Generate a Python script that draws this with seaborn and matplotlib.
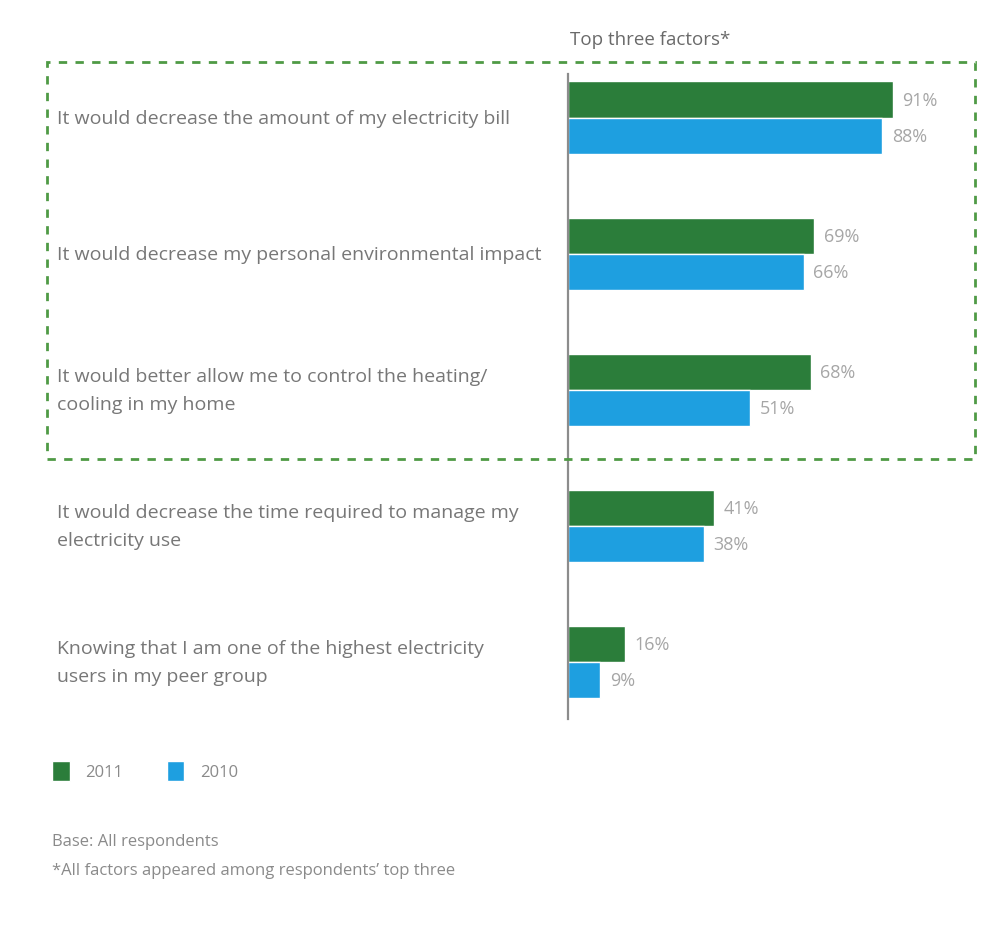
import matplotlib
matplotlib.use("Agg")
import matplotlib.pyplot as plt
import matplotlib.transforms as mtransforms
from matplotlib.patches import Rectangle
import pandas as pd
import seaborn as sns

# Survey factors and shares of respondents (percent)
factors = [
    "It would decrease the amount of my electricity bill",
    "It would decrease my personal environmental impact",
    "It would better allow me to control the heating/\ncooling in my home",
    "It would decrease the time required to manage my\nelectricity use",
    "Knowing that I am one of the highest electricity\nusers in my peer group",
]
values_2011 = [91, 69, 68, 41, 16]
values_2010 = [88, 66, 51, 38, 9]
years = ["2011", "2010"]
colors = {"2011": "#2b7d3a", "2010": "#1e9fe0"}

title_text = "Top three factors*"
footnotes = ["Base: All respondents",
             "*All factors appeared among respondents\u2019 top three"]

df = pd.DataFrame({
    "factor": factors * 2,
    "year": ["2011"] * len(factors) + ["2010"] * len(factors),
    "value": values_2011 + values_2010,
})

sns.set_theme(style="white")
plt.rcParams["font.family"] = ["Open Sans", "DejaVu Sans"]
text_gray = "#777777"

W, H = 996, 928
fig = plt.figure(figsize=(W / 100, H / 100), dpi=100)
ax_left, ax_right, ax_top, ax_bottom = 568, 925, 75, 720
ax = fig.add_axes([ax_left / W, 1 - ax_bottom / H,
                   (ax_right - ax_left) / W, (ax_bottom - ax_top) / H])

sns.barplot(data=df, y="factor", x="value", hue="year", order=factors,
            hue_order=years, palette=colors, width=0.53, orient="h",
            saturation=1, ax=ax)

ax.set_xlim(0, 100)
ax.set_ylim(4.42, -0.32)
ax.set_xlabel("")
ax.set_ylabel("")
ax.set_xticks([])
ax.set_yticks([])
for side in ["top", "right", "bottom"]:
    ax.spines[side].set_visible(False)
ax.spines["left"].set_color("#8c8c8c")
ax.spines["left"].set_linewidth(1.6)

for cont in ax.containers:
    ax.bar_label(cont, labels=[f"{v:.0f}%" for v in cont.datavalues],
                 padding=7, color="#a6a6a6", fontsize=13)

# Factor labels on the left, aligned with each bar pair
trans = mtransforms.blended_transform_factory(fig.transFigure, ax.transData)
for i, f in enumerate(factors):
    ax.text(57 / W, i, f, transform=trans, ha="left", va="center",
            fontsize=14, color=text_gray, linespacing=1.7)

fig.text(570 / W, 1 - 40 / H, title_text, ha="left", va="center",
         fontsize=13.5, color="#6a6a6a")

# Dashed box around the top three factors
fig.patches.append(Rectangle((47 / W, 1 - 460 / H), (975 - 47) / W,
                             (460 - 63) / H, transform=fig.transFigure,
                             fill=False, edgecolor="#4f9a45", linewidth=2,
                             linestyle=(0, (3, 3))))

sns.move_legend(ax, "center left", bbox_to_anchor=(52 / W, 1 - 772 / H),
                bbox_transform=fig.transFigure, ncol=2, frameon=False,
                title=None, fontsize=12, handlelength=1.05, handleheight=1.5,
                handletextpad=0.95, columnspacing=2.6, borderpad=0,
                borderaxespad=0, labelcolor="#8a8a8a")

fig.text(52 / W, 1 - 842 / H, footnotes[0], ha="left", va="center",
         fontsize=12, color="#8a8a8a")
fig.text(52 / W, 1 - 871 / H, footnotes[1], ha="left", va="center",
         fontsize=12, color="#8a8a8a")

fig.savefig("out.png", dpi=100, facecolor="white")
